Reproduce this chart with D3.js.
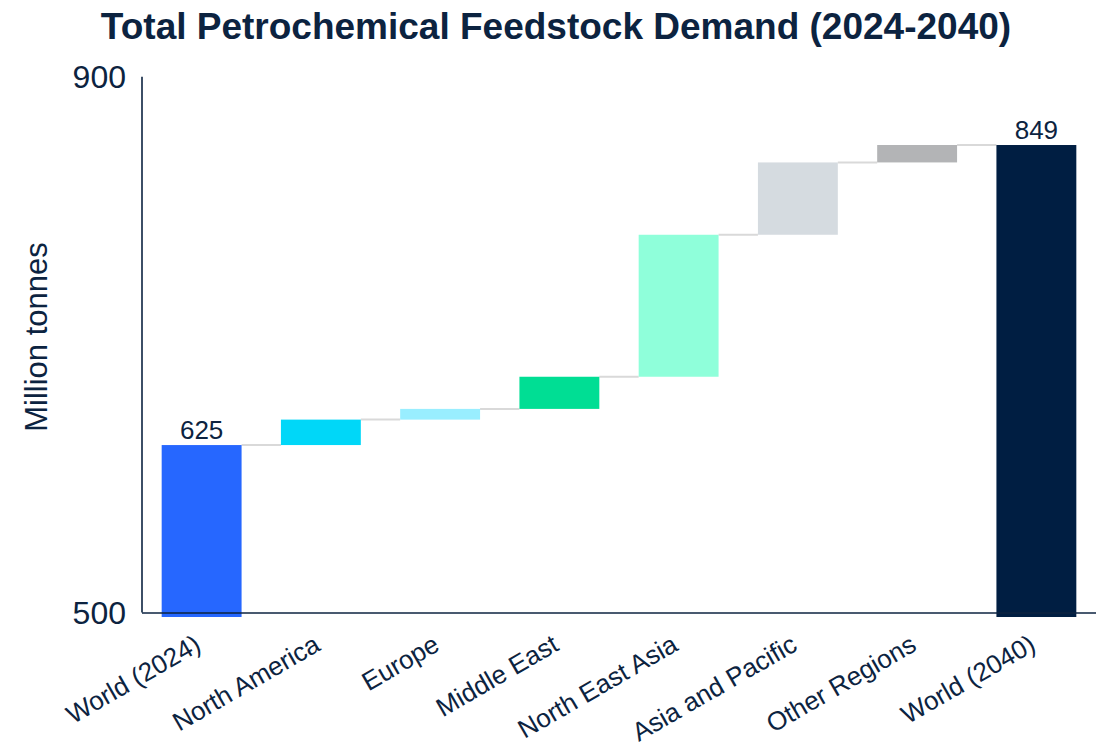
<!DOCTYPE html>
<html>
<head>
<meta charset="utf-8">
<script src="https://cdn.jsdelivr.net/npm/d3@7"></script>
<style>
  html, body { margin: 0; padding: 0; background: #ffffff; }
  svg { display: block; font-family: "Liberation Sans", Arial, sans-serif; }
</style>
</head>
<body>
<svg id="chart" width="1104" height="750"></svg>
<script>
// Waterfall: world demand in 2024, regional increments, world demand in 2040
const categories = ["World (2024)", "North America", "Europe", "Middle East",
                    "North East Asia", "Asia and Pacific", "Other Regions", "World (2040)"];
const values = [625, 19, 8, 24, 106, 54, 13, 849];
const isTotal = [true, false, false, false, false, false, false, true];
const barColors = ["#2667ff", "#00d7f8", "#99eeff", "#00de94",
                   "#8fffda", "#d5dbe0", "#b3b4b6", "#001e42"];
const yTicks = [500, 900];

const textColor = "#0c2340";
const svg = d3.select("#chart");

const margin = { top: 77, left: 142, right: 8, bottom: 137 };
const width = 1104, height = 750;

// running start/end for each step
let running = 0;
const steps = categories.map((c, i) => {
  let start, end;
  if (isTotal[i]) { start = yTicks[0]; end = values[i]; running = values[i]; }
  else { start = running; end = running + values[i]; running = end; }
  return { cat: c, start, end, total: isTotal[i], value: values[i], color: barColors[i] };
});

const x = d3.scaleBand()
  .domain(categories)
  .range([margin.left, width - margin.right])
  .paddingInner(0.33)
  .paddingOuter(0.165);

const y = d3.scaleLinear()
  .domain([yTicks[0], yTicks[yTicks.length - 1]])
  .range([612.5, 76.7]);

// Title
svg.append("text")
  .attr("x", 556)
  .attr("y", 39)
  .attr("text-anchor", "middle")
  .attr("font-size", 37)
  .attr("font-weight", "bold")
  .attr("fill", textColor)
  .text("Total Petrochemical Feedstock Demand (2024-2040)");

// connectors between consecutive bars
const connectors = steps.slice(0, -1).map((s, i) => ({ from: s, to: steps[i + 1], level: s.end }));
svg.append("g")
  .selectAll("line")
  .data(connectors)
  .join("line")
  .attr("x1", d => x(d.from.cat) + x.bandwidth())
  .attr("x2", d => x(d.to.cat))
  .attr("y1", d => y(d.level))
  .attr("y2", d => y(d.level))
  .attr("stroke", "#d9d9d9")
  .attr("stroke-width", 2);

// bars (totals reach slightly below the baseline)
const baseY = y(yTicks[0]);
svg.append("g")
  .selectAll("rect")
  .data(steps)
  .join("rect")
  .attr("x", d => x(d.cat))
  .attr("width", x.bandwidth())
  .attr("y", d => y(Math.max(d.start, d.end)))
  .attr("height", d => {
    const h = Math.abs(y(d.start) - y(d.end));
    return d.total ? h + 4.5 : h;
  })
  .attr("fill", d => d.color);

// value labels on totals
svg.append("g")
  .selectAll("text")
  .data(steps.filter(d => d.total))
  .join("text")
  .attr("x", d => x(d.cat) + x.bandwidth() / 2)
  .attr("y", d => y(d.end) - 6)
  .attr("text-anchor", "middle")
  .attr("font-size", 26)
  .attr("fill", textColor)
  .text(d => d.value);

// axes
const axisColor = "#0c2340";
svg.append("line")
  .attr("x1", margin.left).attr("x2", margin.left)
  .attr("y1", y(yTicks[1])).attr("y2", baseY)
  .attr("stroke", axisColor).attr("stroke-width", 1.6);
svg.append("line")
  .attr("x1", margin.left).attr("x2", width - margin.right)
  .attr("y1", baseY + 0.5).attr("y2", baseY + 0.5)
  .attr("stroke", axisColor).attr("stroke-width", 1.6);

// y tick labels
svg.append("g")
  .selectAll("text")
  .data(yTicks)
  .join("text")
  .attr("x", margin.left - 16)
  .attr("y", d => y(d))
  .attr("dy", "0.36em")
  .attr("text-anchor", "end")
  .attr("font-size", 32)
  .attr("fill", textColor)
  .text(d => d);

// y axis title
svg.append("text")
  .attr("transform", "translate(47,337) rotate(-90)")
  .attr("text-anchor", "middle")
  .attr("font-size", 31)
  .attr("fill", textColor)
  .text("Million tonnes");

// category labels, rotated
svg.append("g")
  .selectAll("text")
  .data(categories)
  .join("text")
  .attr("transform", d => `translate(${x(d) + x.bandwidth() / 2 + 1},${baseY + 37}) rotate(-30)`)
  .attr("text-anchor", "end")
  .attr("font-size", 26)
  .attr("fill", textColor)
  .text(d => d);
</script>
</body>
</html>
